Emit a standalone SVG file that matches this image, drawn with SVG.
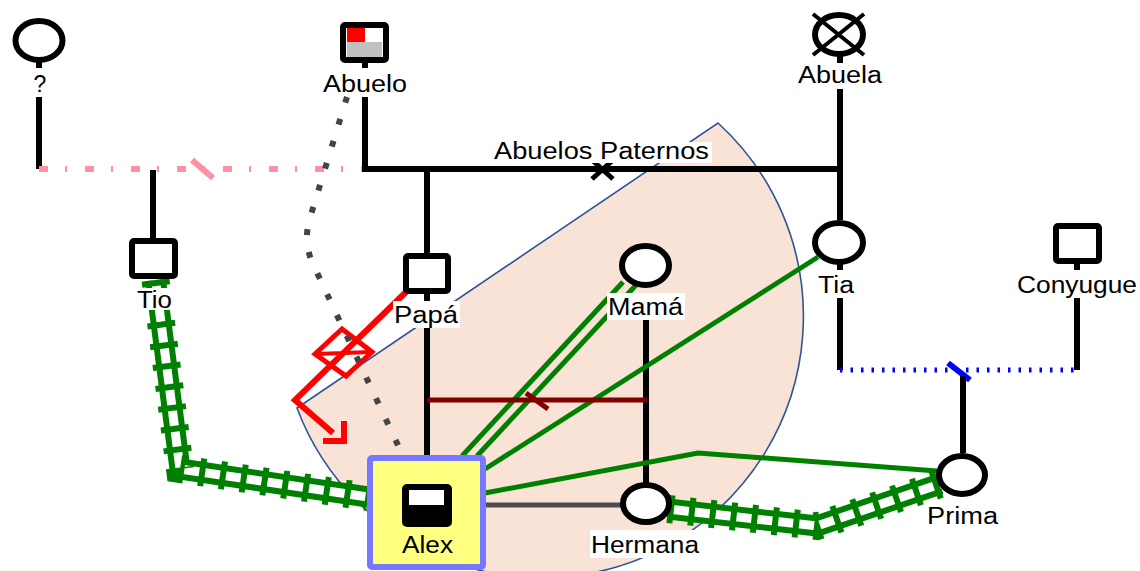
<svg xmlns="http://www.w3.org/2000/svg" width="1140" height="571" viewBox="0 0 1140 571">
<style>
.lbl{font-family:"Liberation Sans",Arial,sans-serif;font-size:23px;fill:#000;text-anchor:middle}
.bg{fill:#fff}
.ln{stroke:#000;stroke-width:6;fill:none}
.shp{fill:#fff;stroke:#000;stroke-width:6}
.g{stroke:#008000;stroke-width:5;fill:none}
.railo{stroke:#008000;stroke-width:21;fill:none}
.raili{stroke:#fff;stroke-width:9;fill:none}
.tie{stroke:#008000;stroke-width:28;fill:none;stroke-dasharray:6 15}
.red{stroke:#ff0000;stroke-width:6;fill:none}
</style>
<rect width="1140" height="571" fill="#fff"/>
<path id="region" d="M297,408 L718,123 A261.5,261.5 0 1 1 297,408 Z" fill="#f9e3d6" stroke="#2f5597" stroke-width="1.6"/>
<g id="connectors">
  <!-- family lines -->
  <path class="ln" d="M39,97 V169"/>
  <path d="M39,169 H365" stroke="#ff8fa3" stroke-width="6" stroke-dasharray="9 17 2 18" fill="none"/>
  <path d="M192,160 L213,178" stroke="#ff8fa3" stroke-width="6"/>
  <path class="ln" d="M153,170 V241"/>
  <path class="ln" d="M365,97 V169 H840"/>
  <path class="ln" d="M840,89 V220"/>
  <path d="M592,160 L613,179 M613,160 L592,179" stroke="#000" stroke-width="5"/>
  <path class="ln" d="M427,169 V256"/>
  <path class="ln" d="M427,328 V458"/>
  <path class="ln" d="M646,320 V484"/>
  <path class="ln" d="M840,298 V370"/>
  <path class="ln" d="M1077,298 V370"/>
  <path d="M840,370 H1077" stroke="#0000ff" stroke-width="5" stroke-dasharray="2.5 8" fill="none"/>
  <path d="M948,363 L970,380" stroke="#0000ff" stroke-width="6"/>
  <path class="ln" d="M963,376 V453"/>
  <!-- stems -->
  <path class="ln" d="M39,62 V68 M365,62 V68 M840,56 V63 M840,264 V270 M1077,263 V270 M427,292 V301"/>
  <!-- railroads -->
  <g id="rail-tio">
    <path class="railo" d="M155.5,280 L180,469 L368,497"/>
    <path class="raili" d="M155.5,280 L180,469 L368,497"/>
    <path class="tie" d="M155.5,280 L180,469 L368,497"/>
  </g>
  <g id="rail-prima">
    <path class="railo" d="M668,509 L817,526 L940,484"/>
    <path class="raili" d="M668,509 L817,526 L940,484"/>
    <path class="tie" d="M668,509 L817,526 L940,484"/>
  </g>
  <!-- green lines -->
  <path class="g" d="M462,456 L623,282"/>
  <path class="g" d="M477,456 L637,284"/>
  <path class="g" d="M485,469 L818,257"/>
  <path class="g" d="M485,493 L698,453 L937,471"/>
  <!-- maroon -->
  <path d="M427,400 H647" stroke="#800000" stroke-width="5"/>
  <path d="M526,393 L548,409" stroke="#800000" stroke-width="5"/>
  <!-- grey -->
  <path d="M483,505 H622" stroke="#4d4d4d" stroke-width="5"/>
  <!-- red -->
  <path class="red" d="M406,292 L295,400 L333,433"/>
  <path class="red" d="M323,441 L344,441 L344,421" stroke-width="7"/>
  <polygon points="315,354 342,329 372,352 346,376" fill="none" stroke="#ff0000" stroke-width="5"/>
  <path d="M332,365 L355,341 M316,354 L371,352" stroke="#ff0000" stroke-width="4"/>
  <!-- dotted grey -->
  <path d="M347,97 L310,218 Q303,240 312,262 L404,458" stroke="#444" stroke-width="6" stroke-dasharray="6 17" fill="none"/>
</g>
<g id="n-unknown">
  <ellipse class="shp" cx="39" cy="40.5" rx="23.5" ry="19.5"/>
  <text class="lbl" x="40" y="92">?</text>
</g>
<g id="n-abuelo">
  <rect x="343" y="25" width="43" height="35" rx="2" fill="#fff" stroke="#000" stroke-width="6"/>
  <rect x="347" y="42" width="35" height="15" fill="#c0c0c0"/>
  <rect x="347" y="28" width="18" height="14" fill="#ff0000"/>
  <text class="lbl" x="365" y="92" textLength="84" lengthAdjust="spacingAndGlyphs">Abuelo</text>
</g>
<g id="n-abuela">
  <ellipse class="shp" cx="839" cy="34.5" rx="24" ry="19.5"/>
  <path d="M813,14 L864,55 M864,14 L813,55" stroke="#000" stroke-width="4"/>
  <text class="lbl" x="840" y="83" textLength="84" lengthAdjust="spacingAndGlyphs">Abuela</text>
</g>
<g id="l-abuelos">
  <rect class="bg" x="492" y="142" width="220" height="21"/>
  <text class="lbl" x="601.5" y="159" textLength="215" lengthAdjust="spacingAndGlyphs">Abuelos Paternos</text>
</g>
<g id="n-tio">
  <rect class="shp" x="132" y="241" width="43" height="35" rx="2"/>
  <rect class="bg" x="135" y="288" width="38" height="22"/>
  <text class="lbl" x="154.5" y="308" textLength="35" lengthAdjust="spacingAndGlyphs">Tio</text>
</g>
<g id="n-papa">
  <rect class="shp" x="406" y="256" width="42" height="35" rx="2"/>
  <rect class="bg" x="393" y="301" width="67" height="27"/>
  <text class="lbl" x="426" y="323" textLength="64" lengthAdjust="spacingAndGlyphs">Papá</text>
</g>
<g id="n-mama">
  <ellipse class="shp" cx="645.5" cy="265.5" rx="23.5" ry="19.5"/>
  <rect class="bg" x="607" y="293" width="78" height="27"/>
  <text class="lbl" x="645.5" y="315" textLength="75" lengthAdjust="spacingAndGlyphs">Mamá</text>
</g>
<g id="n-tia">
  <ellipse class="shp" cx="839" cy="242.5" rx="24" ry="19.5"/>
  <text class="lbl" x="836" y="293" textLength="36" lengthAdjust="spacingAndGlyphs">Tia</text>
</g>
<g id="n-conyugue">
  <rect class="shp" x="1056" y="226" width="43" height="35" rx="2"/>
  <text class="lbl" x="1077" y="293" textLength="120" lengthAdjust="spacingAndGlyphs">Conyugue</text>
</g>
<g id="n-prima">
  <ellipse class="shp" cx="962" cy="475" rx="23" ry="19"/>
  <text class="lbl" x="962.5" y="524" textLength="71" lengthAdjust="spacingAndGlyphs">Prima</text>
</g>
<g id="n-hermana">
  <ellipse class="shp" cx="646" cy="503.5" rx="23" ry="18.5"/>
  <rect class="bg" x="590" y="530" width="110" height="28"/>
  <text class="lbl" x="645" y="553" textLength="108" lengthAdjust="spacingAndGlyphs">Hermana</text>
</g>
<g id="n-alex">
  <rect x="370" y="458" width="113" height="109" rx="2" fill="#ffff80" stroke="#7777ff" stroke-width="6"/>
  <rect x="402" y="484" width="50" height="43" rx="5" fill="#000"/>
  <rect x="409" y="490" width="35" height="15" fill="#fff"/>
  <text class="lbl" x="427.5" y="553" textLength="51" lengthAdjust="spacingAndGlyphs">Alex</text>
</g>
</svg>
